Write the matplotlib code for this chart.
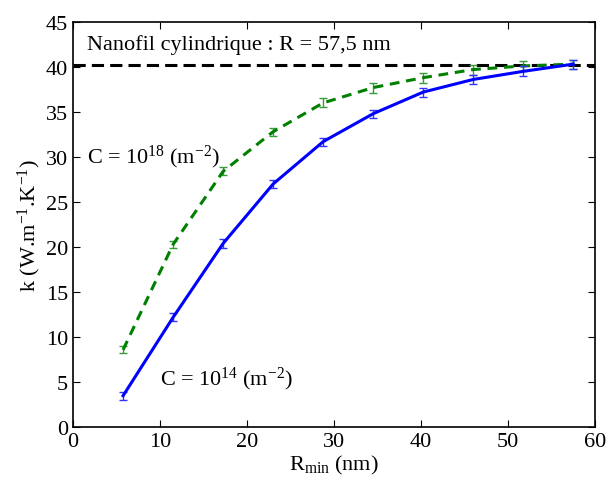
import matplotlib
matplotlib.use("Agg")
import matplotlib.pyplot as plt

plt.rcParams["font.family"] = "Liberation Serif"
plt.rcParams["mathtext.fontset"] = "custom"
plt.rcParams["mathtext.rm"] = "Liberation Serif"
plt.rcParams["mathtext.it"] = "Liberation Serif:italic"

# R_min (nm) and thermal conductivity k for two defect densities
r_min = [5.75, 11.5, 17.25, 23.0, 28.75, 34.5, 40.25, 46.0, 51.75, 57.5]
k_c14 = [3.5, 12.2, 20.4, 27.0, 31.7, 34.8, 37.2, 38.6, 39.5, 40.3]
err_c14 = [0.45, 0.45, 0.45, 0.45, 0.45, 0.45, 0.5, 0.55, 0.55, 0.5]
k_c18 = [8.6, 20.3, 28.4, 32.8, 36.0, 37.7, 38.8, 39.7, 40.1, 40.3]
err_c18 = [0.4, 0.4, 0.45, 0.45, 0.5, 0.55, 0.55, 0.55, 0.55, 0.5]
k_wire = 40.25  # cylindrical nanowire, R = 57.5 nm

fig = plt.figure(figsize=(6.09, 4.85), dpi=100)
ax = fig.add_axes([0.120, 0.117, 0.857, 0.836])

ax.axhline(k_wire, color="black", lw=2.2, dashes=(4, 2), zorder=1)

ax.errorbar(r_min, k_c14, yerr=err_c14, color="#0000ff", lw=2.2, elinewidth=1,
            ecolor="#3333ff", capsize=3, zorder=3)
ax.errorbar(r_min, k_c18, yerr=err_c18, color="#008000", lw=2.2, elinewidth=1,
            ecolor="#3a9a3a", capsize=3, dashes=(3.2, 2.2), zorder=2)

fs = 16
ax.text(1.6, 42.5, "Nanofil cylindrique : R = 57,5 nm", fontsize=fs, va="center")
ax.text(1.6, 30.1, r"C = 10$^{18}$ (m$^{-2}$)", fontsize=fs, va="center")
ax.text(10.0, 5.4, r"C = 10$^{14}$ (m$^{-2}$)", fontsize=fs, va="center")

ax.set_xlim(0, 60)
ax.set_ylim(0, 45)
ax.set_xticks(range(0, 61, 10))
ax.set_yticks(range(0, 46, 5))
ax.tick_params(direction="in", top=True, right=True, labelsize=fs, length=5)
ax.set_xlabel(r"R$_{\rm min}$ (nm)", fontsize=fs, labelpad=1)
ax.set_ylabel(r"k (W.m$^{-1}$.K$^{-1}$)", fontsize=fs, labelpad=2)
for s in ax.spines.values():
    s.set_linewidth(1.2)

fig.savefig("out.png", dpi=100)
